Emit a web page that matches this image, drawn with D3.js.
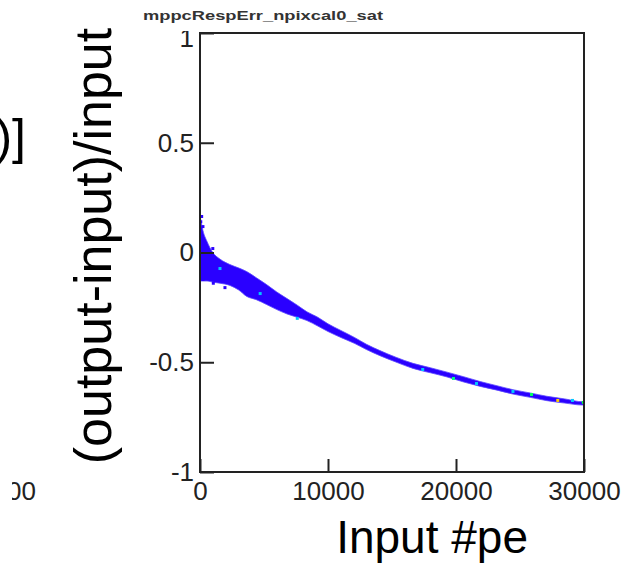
<!DOCTYPE html>
<html>
<head>
<meta charset="utf-8">
<script src="https://cdn.jsdelivr.net/npm/d3@7"></script>
<style>
    body { margin: 0; background: #fff; }
    svg { display: block; font-family: "Liberation Sans", Arial, sans-serif; }
</style>
</head>
<body>
<div id="chart"></div>
<script>
// mppcRespErr_npixcal0_sat - 2D histogram of (output-input)/input vs input #pe

const X_TICKS = [0, 10000, 20000, 30000];
const Y_TICKS = [-1, -0.5, 0, 0.5, 1];

// band of filled bins: input, upper edge, lower edge
const BAND_INPUT = [0, 230, 550, 1000, 1560, 2340, 3000, 3650, 4400, 5200, 6000, 6800, 7600, 8350, 9200, 10000, 11000, 12100, 13000, 14060, 15300, 16640, 18000, 19300, 20600, 21900, 23200, 24450, 25800, 27100, 28500, 29900, 30000];
const BAND_UPPER = [0.17, 0.10, 0.05, 0.0, -0.03, -0.055, -0.07, -0.087, -0.115, -0.146, -0.18, -0.21, -0.24, -0.27, -0.295, -0.325, -0.355, -0.388, -0.418, -0.447, -0.477, -0.505, -0.525, -0.545, -0.566, -0.588, -0.607, -0.625, -0.64, -0.655, -0.667, -0.68, -0.68];
const BAND_LOWER = [-0.13, -0.13, -0.13, -0.135, -0.14, -0.15, -0.17, -0.2, -0.215, -0.237, -0.26, -0.28, -0.295, -0.31, -0.335, -0.36, -0.387, -0.415, -0.442, -0.47, -0.499, -0.528, -0.548, -0.567, -0.59, -0.61, -0.627, -0.645, -0.66, -0.675, -0.686, -0.695, -0.695];

// loose single bins
const OUTLIER_INPUT = [130, 230, 1000, 230, 1950, 1040, 60];
const OUTLIER_VALUE = [0.164, 0.118, 0.018, -0.123, -0.16, -0.14, 0.14];

// higher-count bins: input, value, colour
const HOT_INPUT = [1560, 4700, 7600, 17400, 19800, 21600, 24450, 25900, 27950, 29100, 29950];
const HOT_VALUE = [-0.073, -0.187, -0.3, -0.533, -0.574, -0.597, -0.633, -0.647, -0.674, -0.674, -0.683];
const HOT_COLOR = ["#00c8ff", "#00c8ff", "#00c8ff", "#00c8ff", "#00ff80", "#00c8ff", "#00c8ff", "#00ff60", "#ffd000", "#00c8ff", "#00ff40"];

const W = 625, H = 565;
const svg = d3.select("#chart").append("svg")
    .attr("width", W)
    .attr("height", H);

svg.append("rect").attr("width", W).attr("height", H).attr("fill", "#fff");

const x = d3.scaleLinear().domain([0, 30000]).range([200, 584]);
const y = d3.scaleLinear().domain([-1, 1]).range([472, 33]);

svg.append("clipPath").attr("id", "plot-clip")
    .append("rect")
    .attr("x", x(0)).attr("y", y(1))
    .attr("width", x(30000) - x(0)).attr("height", y(-1) - y(1));

const plot = svg.append("g").attr("clip-path", "url(#plot-clip)");

const band = BAND_INPUT.map((v, i) => ({ v, hi: BAND_UPPER[i], lo: BAND_LOWER[i] }));

plot.append("path")
    .datum(band)
    .attr("fill", "#2a00ff")
    .attr("stroke", "#5a48ff")
    .attr("stroke-width", 0.8)
    .attr("d", d3.area()
        .x(d => x(d.v))
        .y0(d => y(d.lo))
        .y1(d => y(d.hi))
        .curve(d3.curveMonotoneX));

plot.selectAll("rect.outlier")
    .data(OUTLIER_INPUT.map((v, i) => ({ v, val: OUTLIER_VALUE[i] })))
    .join("rect")
    .attr("class", "outlier")
    .attr("x", d => x(d.v) - 1.5)
    .attr("y", d => y(d.val) - 1.5)
    .attr("width", 3)
    .attr("height", 3)
    .attr("fill", "#2a00ff");

plot.selectAll("rect.hot")
    .data(HOT_INPUT.map((v, i) => ({ v, val: HOT_VALUE[i], c: HOT_COLOR[i] })))
    .join("rect")
    .attr("class", "hot")
    .attr("x", d => x(d.v) - 1.5)
    .attr("y", d => y(d.val) - 1.5)
    .attr("width", 3)
    .attr("height", 3)
    .attr("fill", d => d.c);

// axes, ticks drawn inward like ROOT; plain hyphen minus
const yAxis = svg.append("g")
    .attr("transform", `translate(${x(0)},0)`)
    .call(d3.axisLeft(y).tickValues(Y_TICKS).tickSize(-14).tickSizeOuter(0).tickPadding(6)
        .tickFormat(d => String(d)));

const xAxis = svg.append("g")
    .attr("transform", `translate(0,${y(-1)})`)
    .call(d3.axisBottom(x).tickValues(X_TICKS).tickSize(-13).tickSizeOuter(0).tickPadding(10)
        .tickFormat(d => String(d)));

[xAxis, yAxis].forEach(g => {
    g.select(".domain").remove();
    g.selectAll(".tick line").attr("stroke", "#222").attr("stroke-width", 2);
    g.selectAll(".tick text")
        .attr("fill", "#222")
        .style("font-size", "26px")
        .style("font-family", "'Liberation Sans', Arial, sans-serif");
});

// top label sits a little lower, its top hidden under the title box
yAxis.selectAll(".tick")
    .filter(d => d === 1)
    .select("text")
    .attr("y", 5);

svg.append("rect")
    .attr("x", x(0)).attr("y", y(1))
    .attr("width", x(30000) - x(0)).attr("height", y(-1) - y(1))
    .attr("fill", "none")
    .attr("stroke", "#222")
    .attr("stroke-width", 2);

// title box
svg.append("rect")
    .attr("x", 140).attr("y", 0)
    .attr("width", 58).attr("height", 31)
    .attr("fill", "#fff");

svg.append("text")
    .attr("x", 143)
    .attr("y", 20)
    .attr("textLength", 240)
    .attr("lengthAdjust", "spacingAndGlyphs")
    .style("font-size", "12.5px")
    .style("font-weight", "bold")
    .attr("fill", "#333")
    .text("mppcRespErr_npixcal0_sat");

svg.append("text")
    .attr("transform", "translate(111,246) rotate(-90)")
    .attr("text-anchor", "middle")
    .style("font-size", "52px")
    .attr("fill", "#000")
    .text("(output-input)/input");

svg.append("text")
    .attr("x", 528)
    .attr("y", 553)
    .attr("text-anchor", "end")
    .style("font-size", "46px")
    .attr("fill", "#000")
    .text("Input #pe");

// pieces of the neighbouring panel cut off at the left edge
svg.append("clipPath").attr("id", "left-clip")
    .append("rect").attr("x", 12).attr("y", 0).attr("width", 60).attr("height", H);

svg.append("text")
    .attr("x", 26)
    .attr("y", 154)
    .attr("text-anchor", "end")
    .style("font-size", "50px")
    .attr("fill", "#000")
    .text(")]");

svg.append("text")
    .attr("clip-path", "url(#left-clip)")
    .attr("x", 36)
    .attr("y", 500)
    .attr("text-anchor", "end")
    .style("font-size", "26px")
    .attr("fill", "#222")
    .text("30000");
</script>
</body>
</html>
